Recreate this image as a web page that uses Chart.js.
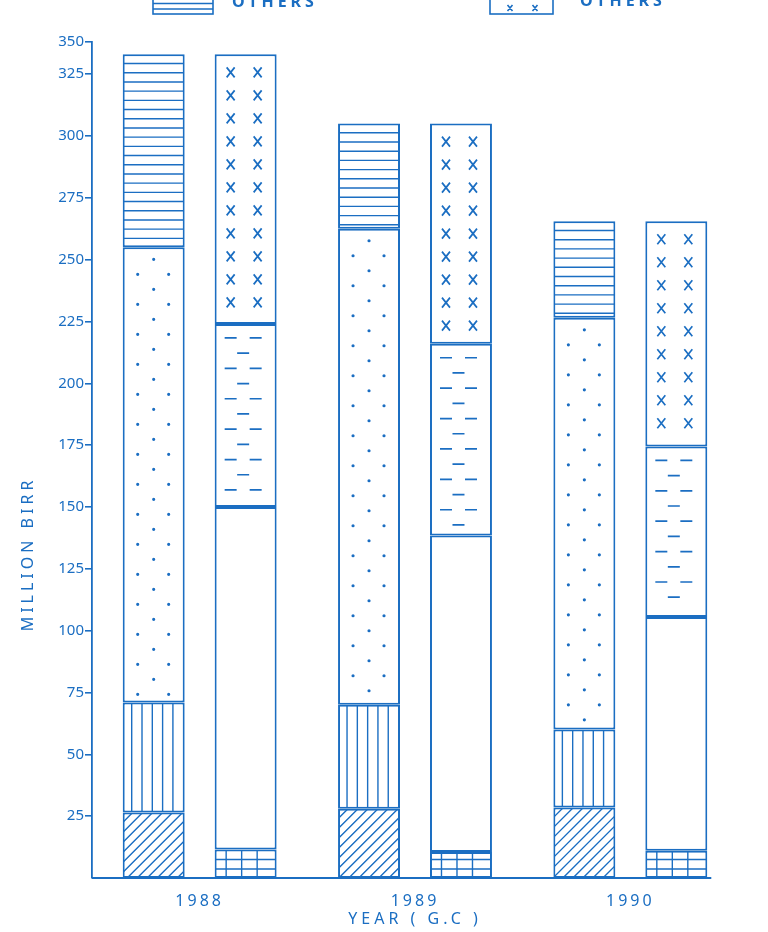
<!DOCTYPE html>
<html>
<head>
<meta charset="utf-8">
<script src="https://cdn.jsdelivr.net/npm/chart.js@4/dist/chart.umd.min.js"></script>
<style>
html, body { margin: 0; padding: 0; background: #fff; }
</style>
</head>
<body>
<canvas id="grafico" width="768" height="932"></canvas>
<script>
var azul = '#1b6ec2'

var anos = ['1988', '1989', '1990']
var yTicks = ['25', '50', '75', '100', '125', '150', '175', '200', '225', '250', '275', '300', '325', '350']

// A (assets), de baixo pra cima
var aHachura = [26.5, 28, 28.5]
var aVertical = [44.5, 42, 31.5]
var aPontos = [184, 192.5, 166.5]
var aOutros = [78, 42.5, 39]

// L (liabilities), de baixo pra cima
var lGrade = [11.5, 10.5, 11]
var lBranco = [138.5, 128, 94.5]
var lTracos = [74, 77.5, 69]
var lOutros = [109, 89, 91]

Chart.defaults.font.family = '"Noto Sans", sans-serif'
Chart.defaults.color = azul

function linha(ctx, x1, y1, x2, y2) {
    ctx.moveTo(x1, y1)
    ctx.lineTo(x2, y2)
}

// preenchimentos desenhados dentro de cada barra
function desenhaPadrao(ctx, tipo, l, t, r, b) {
    var w = r - l, h = b - t, x, y, k
    ctx.strokeStyle = azul
    ctx.fillStyle = azul
    ctx.lineWidth = 1.4
    ctx.beginPath()
    if (tipo === 'diag') {
        for (x = l - h; x < r; x += 10) linha(ctx, x, b, x + h, t)
        ctx.stroke()
    } else if (tipo === 'vert') {
        for (x = l + 9; x < r - 6; x += 10.3) linha(ctx, x, t, x, b)
        ctx.stroke()
    } else if (tipo === 'horiz') {
        for (y = t + 9.2; y < b - 3; y += 9.2) linha(ctx, l, y, r, y)
        ctx.stroke()
    } else if (tipo === 'pontos') {
        k = 0
        for (y = t + 12; y < b - 6; y += 15, k++) {
            if (k % 2 === 0) {
                ctx.moveTo(l + w / 2 + 1.6, y); ctx.arc(l + w / 2, y, 1.6, 0, Math.PI * 2)
            } else {
                ctx.moveTo(l + 16.6, y); ctx.arc(l + 15, y, 1.6, 0, Math.PI * 2)
                ctx.moveTo(r - 14.4, y); ctx.arc(r - 16, y, 1.6, 0, Math.PI * 2)
            }
        }
        ctx.fill()
    } else if (tipo === 'grade') {
        for (y = b - 9; y > t + 3; y -= 9.5) linha(ctx, l, y, r, y)
        for (x = l + 11.5; x < r - 6; x += 15.5) linha(ctx, x, t, x, b)
        ctx.stroke()
    } else if (tipo === 'tracos') {
        k = 0
        ctx.lineWidth = 1.7
        for (y = t + 14; y < b - 6; y += 15.2, k++) {
            if (k % 2 === 0) {
                linha(ctx, l + 10, y, l + 22, y)
                linha(ctx, l + 35, y, l + 47, y)
            } else {
                linha(ctx, l + 22.5, y, l + 34.5, y)
            }
        }
        ctx.stroke()
    } else if (tipo === 'xis') {
        ctx.lineWidth = 1.7
        for (y = t + 18; y < b - 8; y += 23) {
            [l + 16, l + 43].forEach(function (cx) {
                linha(ctx, cx - 4, y - 5, cx + 4, y + 5)
                linha(ctx, cx + 4, y - 5, cx - 4, y + 5)
            })
        }
        ctx.stroke()
    }
}

var pluginPadroes = {
    id: 'padroes',
    afterLayout: function (chart) {
        // espacamento entre letras no eixo x
        var s = chart.scales.x
        if (s && !s._espacado) {
            var dl = s.drawLabels, dt = s.drawTitle
            s.drawLabels = function (area) {
                this.ctx.save(); this.ctx.letterSpacing = '3px'
                dl.call(this, area)
                this.ctx.restore()
            }
            s.drawTitle = function () {
                this.ctx.save(); this.ctx.letterSpacing = '4px'
                dt.call(this)
                this.ctx.restore()
            }
            s._espacado = true
        }
    },
    afterDatasetsDraw: function (chart) {
        var ctx = chart.ctx
        chart.data.datasets.forEach(function (ds, i) {
            if (!ds.padrao) return
            chart.getDatasetMeta(i).data.forEach(function (el) {
                var p = el.getProps(['x', 'y', 'base', 'width'], true)
                var l = p.x - p.width / 2, r = p.x + p.width / 2
                var t = Math.min(p.y, p.base), b = Math.max(p.y, p.base)
                ctx.save()
                ctx.beginPath()
                ctx.rect(l + 1, t + 1, r - l - 2, b - t - 2)
                ctx.clip()
                desenhaPadrao(ctx, ds.padrao, l, t, r, b)
                ctx.restore()
            })
        })
    },
    afterDraw: function (chart) {
        var ctx = chart.ctx, area = chart.chartArea
        var n = chart.data.datasets.length
        var ult = chart.getDatasetMeta(n - 1).data
        var fim = ult[ult.length - 1]
        var pf = fim.getProps(['x', 'width'], true)

        ctx.save()
        ctx.strokeStyle = azul
        ctx.fillStyle = azul
        ctx.lineWidth = 1.8
        // linha do eixo x
        ctx.beginPath()
        linha(ctx, area.left, area.bottom, pf.x + pf.width / 2 + 4, area.bottom)
        ctx.stroke()

        // titulo do eixo y
        ctx.save()
        ctx.translate(28, 556)
        ctx.rotate(-Math.PI / 2)
        ctx.font = '16px "Noto Sans", sans-serif'
        ctx.letterSpacing = '4px'
        ctx.textAlign = 'center'
        ctx.textBaseline = 'middle'
        ctx.fillText('MILLION BIRR', 2, 0)
        ctx.restore()

        // restinho da legenda cortada no topo
        ctx.lineWidth = 1.6
        ctx.strokeRect(153, -20, 60, 34)
        ctx.beginPath()
        linha(ctx, 153, 3.5, 213, 3.5)
        linha(ctx, 153, 9, 213, 9)
        ctx.stroke()
        ctx.strokeRect(490, -20, 63, 34)
        ctx.beginPath()
        ;[510, 535].forEach(function (cx) {
            linha(ctx, cx - 2.5, 5, cx + 2.5, 11)
            linha(ctx, cx + 2.5, 5, cx - 2.5, 11)
        })
        ctx.stroke()
        ctx.font = 'bold 16px "Noto Sans", sans-serif'
        ctx.letterSpacing = '4px'
        ctx.textBaseline = 'alphabetic'
        ctx.fillText('OTHERS', 232, 7)
        ctx.fillText('OTHERS', 580, 6)
        ctx.restore()
    }
}

function serie(label, data, stack, padrao) {
    return {
        label: label,
        data: data,
        stack: stack,
        padrao: padrao,
        backgroundColor: '#ffffff',
        borderColor: azul,
        borderWidth: 2,
        borderSkipped: false,
        categoryPercentage: 0.854,
        barPercentage: 0.674
    }
}

var ctx1 = document.getElementById('grafico').getContext('2d')
var grafico = new Chart(ctx1, {
    type: 'bar',
    data: {
        labels: anos,
        datasets: [
            serie('A 1', aHachura, 'A', 'diag'),
            serie('A 2', aVertical, 'A', 'vert'),
            serie('A 3', aPontos, 'A', 'pontos'),
            serie('A OTHERS', aOutros, 'A', 'horiz'),
            serie('L 1', lGrade, 'L', 'grade'),
            serie('L 2', lBranco, 'L', null),
            serie('L 3', lTracos, 'L', 'tracos'),
            serie('L OTHERS', lOutros, 'L', 'xis')
        ]
    },
    options: {
        responsive: false,
        animation: false,
        layout: { padding: { top: 42, right: 30, left: 0, bottom: 0 } },
        plugins: {
            legend: { display: false },
            tooltip: { enabled: false }
        },
        scales: {
            x: {
                stacked: true,
                grid: { display: false },
                border: { display: false },
                ticks: { font: { size: 16 }, padding: 6 },
                title: { display: true, text: 'YEAR ( G.C )', font: { size: 16 }, padding: { top: 0, bottom: 3 } },
                afterFit: function (ax) { ax.height = 54 }
            },
            y: {
                stacked: true,
                min: 0,
                max: 338, // o topo do eixo original e comprimido (350 fica logo acima do 325)
                grid: { drawOnChartArea: false, drawTicks: true, tickLength: 7, color: azul, lineWidth: 1.6 },
                border: { display: true, color: azul, width: 1.8 },
                ticks: {
                    font: { size: 15 },
                    padding: 1,
                    callback: function (v, i) { return yTicks[i] }
                },
                afterBuildTicks: function (ax) {
                    ax.ticks = yTicks.map(function (t, i) {
                        return { value: i < yTicks.length - 1 ? Number(t) : ax.max }
                    })
                },
                afterFit: function (ax) { ax.width = 92 }
            }
        }
    },
    plugins: [pluginPadroes]
})
</script>
</body>
</html>
